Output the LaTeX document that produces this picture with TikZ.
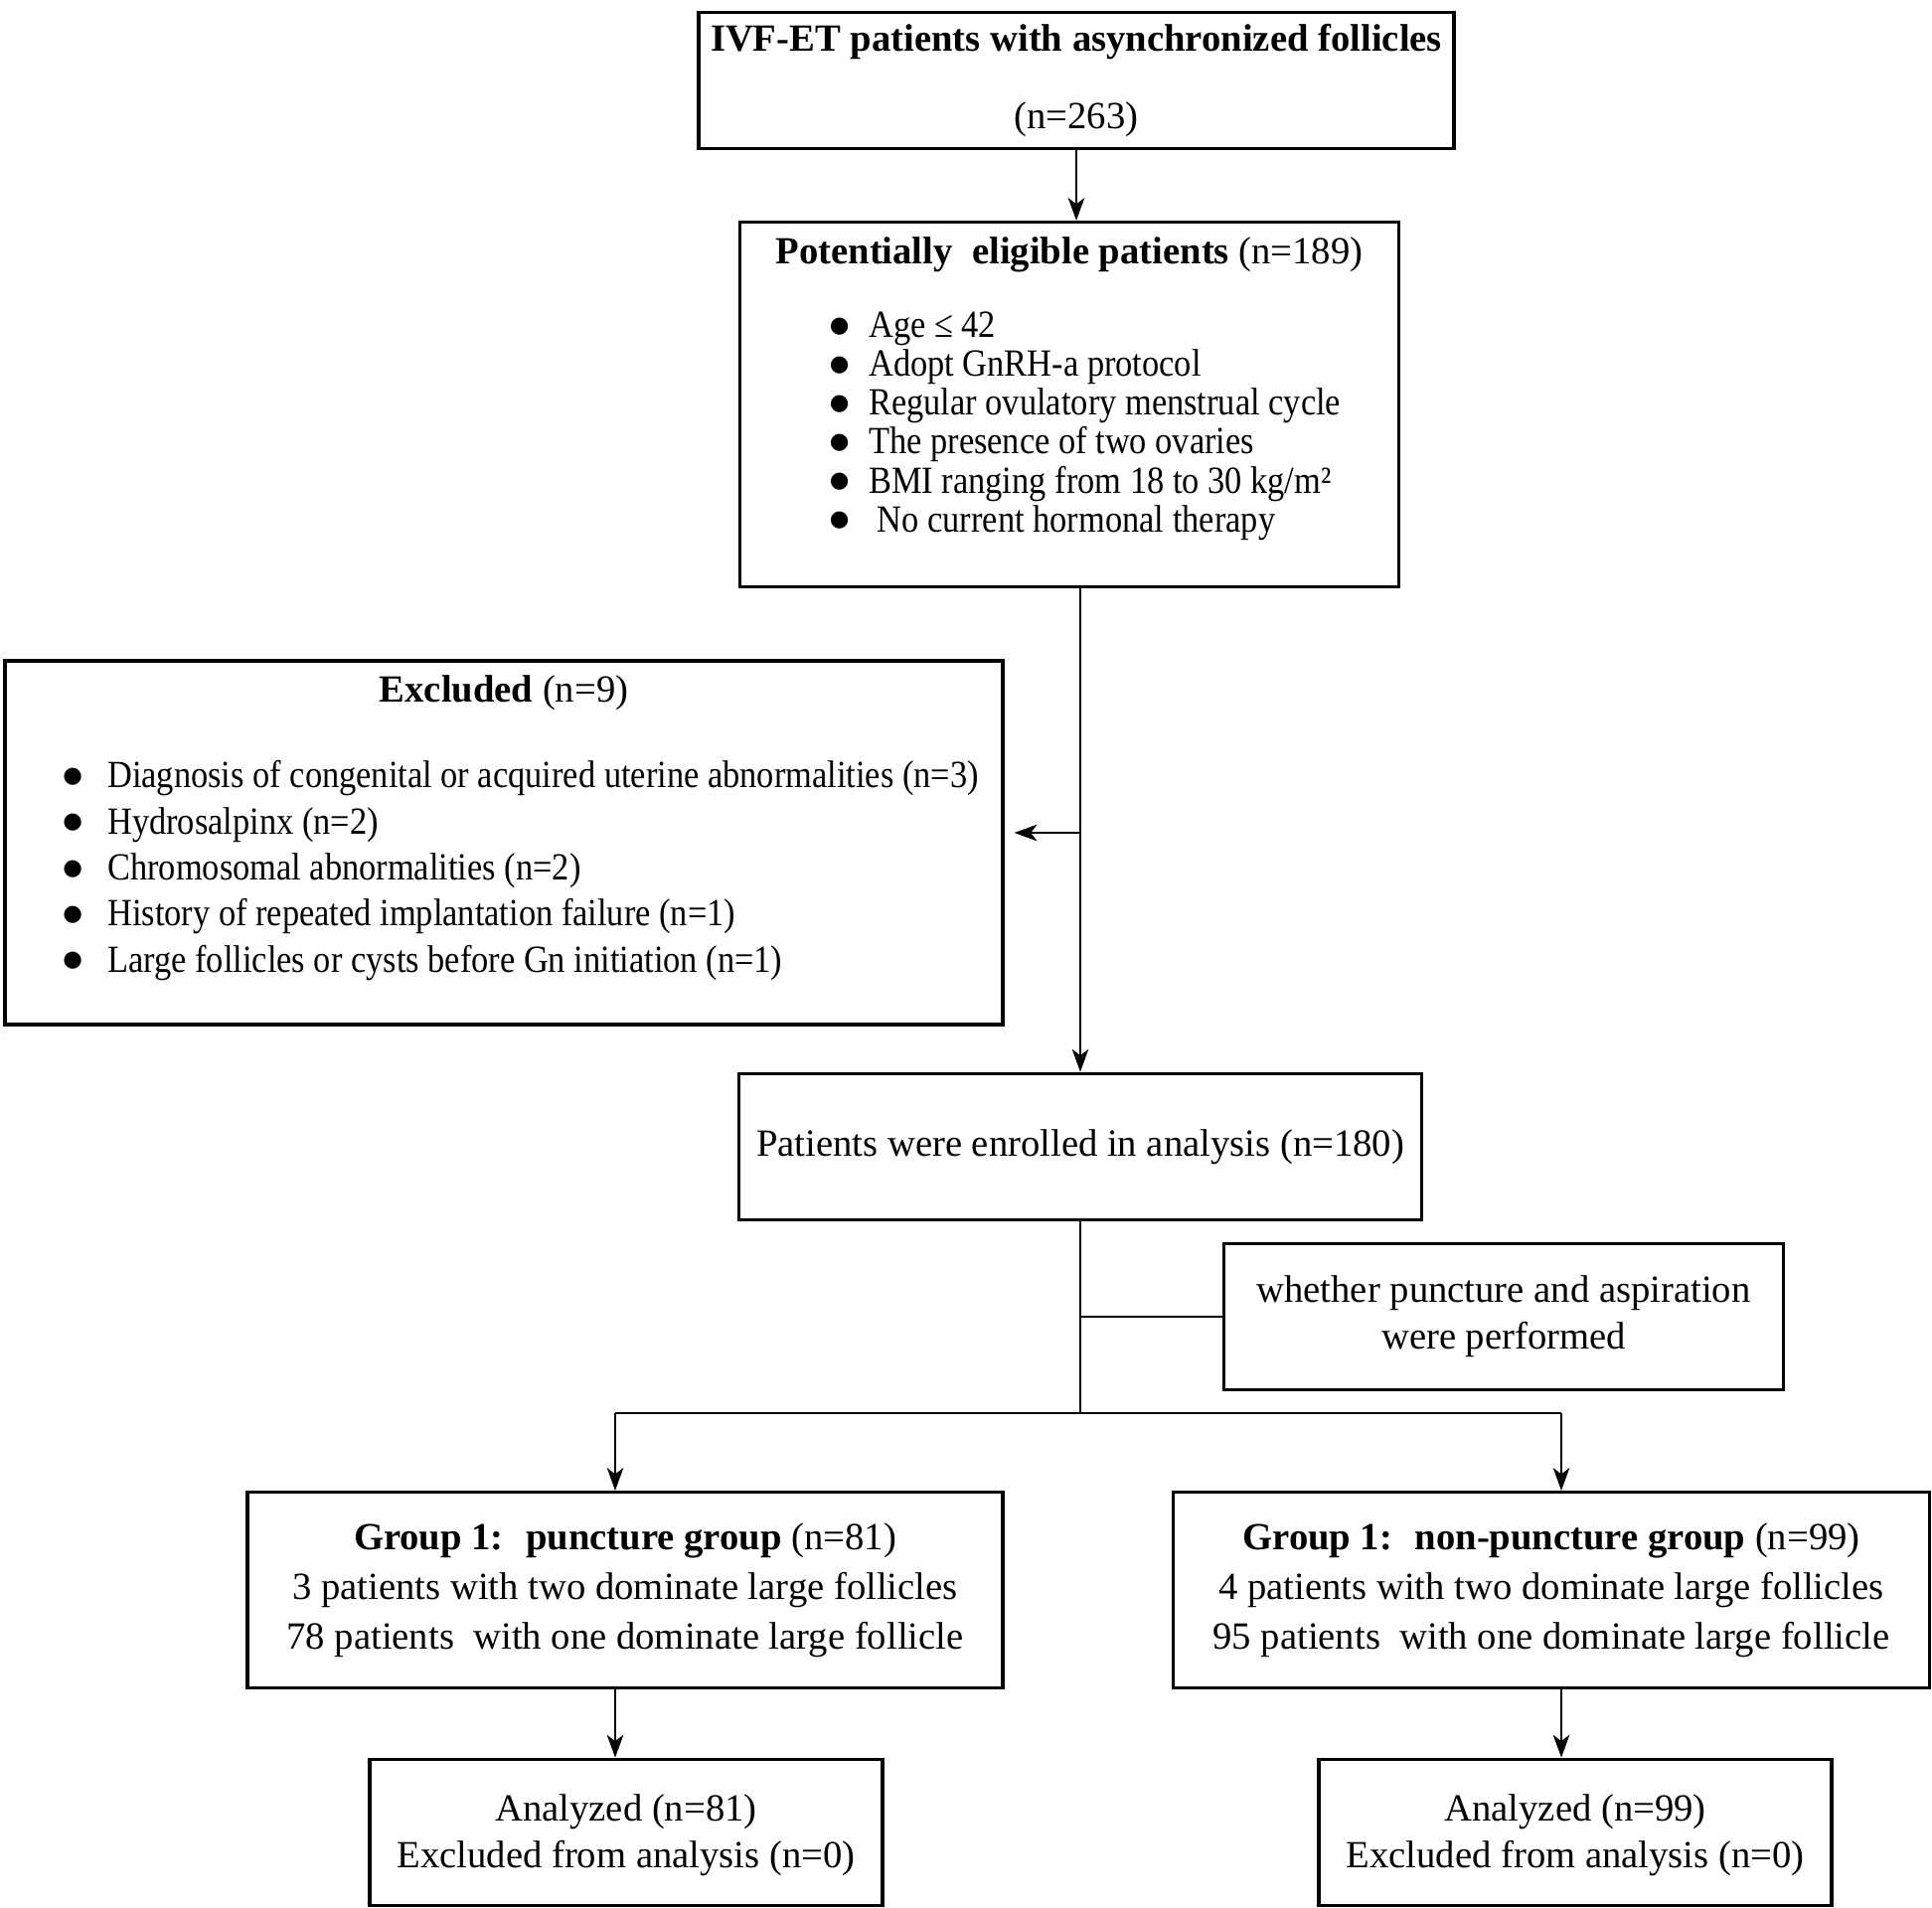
\documentclass[tikz,border=0pt]{standalone}
\usepackage{fontspec}
\setmainfont{Liberation Serif}
\newfontfamily\listfont[FakeStretch=0.89]{Liberation Serif}
\newfontfamily\symfont{DejaVu Sans}
\newcommand{\blt}{\raisebox{1.5pt}{\symfont\fontsize{6.4}{6.4}\selectfont ●}}
\usetikzlibrary{arrows.meta}

\begin{document}
\begin{tikzpicture}[%
    every node/.style={
        font=\fontsize{11}{13.4}\selectfont,
    },
    box/.style={draw, line width=0.9pt, align=center, inner sep=0pt},
    arr/.style={line width=0.7pt, -{Stealth[length=6.5pt,width=4.7pt,inset=1.8pt]}},
    lne/.style={line width=0.7pt},
]
\useasboundingbox (0,0) rectangle (19.44,-19.195);

% draw the boxes
\node[box, minimum width=7.60cm, minimum height=1.376cm] (ivf) at (10.83,-0.81)
    {\textbf{IVF-ET patients with asynchronized follicles}\\[8.8pt](n=263)};
\node[box, minimum width=6.63cm, minimum height=3.67cm] (elig) at (10.76,-4.07)
    {\textbf{Potentially~ eligible patients} (n=189)\\[7.6pt]
    \hspace*{0.32cm}{\listfont\def\arraystretch{0.83}\begin{tabular}[t]{@{}l@{\hspace{5.6pt}}l@{}}
    \blt & Age ≤ 42\\
    \blt & Adopt GnRH-a protocol\\
    \blt & Regular ovulatory menstrual cycle\\
    \blt & The presence of two ovaries\\
    \blt & BMI ranging from 18 to 30 kg/m²\\
    \blt & \ No current hormonal therapy\\[8pt]
    \end{tabular}}};
\node[box, minimum width=10.04cm, minimum height=3.66cm] (excl) at (5.07,-8.48)
    {\textbf{Excluded} (n=9)\\[11.2pt]
    \hspace*{0.34cm}{\listfont\def\arraystretch{0.985}\begin{tabular}[t]{@{}l@{\hspace{7.2pt}}l@{}}
    \blt & Diagnosis of congenital or acquired uterine abnormalities (n=3)\\
    \blt & Hydrosalpinx (n=2)\\
    \blt & Chromosomal abnormalities (n=2)\\
    \blt & History of repeated implantation failure (n=1)\\
    \blt & Large follicles or cysts before Gn initiation (n=1)\\[7pt]
    \end{tabular}}};
\node[box, minimum width=6.87cm, minimum height=1.476cm] (enrol) at (10.87,-11.54)
    {Patients were enrolled in analysis (n=180)};
\node[box, minimum width=5.63cm, minimum height=1.476cm] (whether) at (15.13,-13.25)
    {whether puncture and aspiration\\were performed};
\node[box, minimum width=7.60cm, minimum height=1.97cm] (grpA) at (6.29,-16.0)
    {\textbf{Group 1:~ puncture group} (n=81)\\[0.8pt]
    3 patients with two dominate large follicles\\[0.8pt]
    78 patients~ with one dominate large follicle};
\node[box, minimum width=7.61cm, minimum height=1.97cm] (grpB) at (15.61,-16.0)
    {\textbf{Group 1:~ non-puncture group} (n=99)\\[0.8pt]
    4 patients with two dominate large follicles\\[0.8pt]
    95 patients~ with one dominate large follicle};
\node[box, minimum width=5.16cm, minimum height=1.476cm] (anaA) at (6.30,-18.44)
    {\rule{0pt}{9pt}Analyzed (n=81)\\Excluded from analysis (n=0)};
\node[box, minimum width=5.16cm, minimum height=1.476cm] (anaB) at (15.85,-18.44)
    {\rule{0pt}{9pt}Analyzed (n=99)\\Excluded from analysis (n=0)};

% draw the trunk
\draw[arr] (ivf.south) -- (ivf.south |- elig.north);
\draw[arr] (enrol.north |- elig.south) -- (enrol.north);
\draw[arr] ([yshift=0.1cm]excl.east -| enrol.north) -- ([xshift=0.1cm,yshift=0.1cm]excl.east);

% split into the two groups
\coordinate (fork) at (10.87,-14.22);
\draw[lne] (enrol.south) -- (fork);
\draw[lne] (enrol.south |- whether.west) -- (whether.west);
\draw[lne] ([xshift=-0.1cm]grpA.north |- fork) -- ([xshift=0.1cm]grpB.north |- fork);
\draw[arr] ([xshift=-0.1cm]grpA.north |- fork) -- ([xshift=-0.1cm]grpA.north);
\draw[arr] ([xshift=0.1cm]grpB.north |- fork) -- ([xshift=0.1cm]grpB.north);

% draw arrows to the analysis
\draw[arr] ([xshift=-0.1cm]grpA.south) -- ([xshift=-0.1cm]grpA.south |- anaA.north);
\draw[arr] ([xshift=0.1cm]grpB.south) -- ([xshift=0.1cm]grpB.south |- anaB.north);
\end{tikzpicture}
\end{document}
